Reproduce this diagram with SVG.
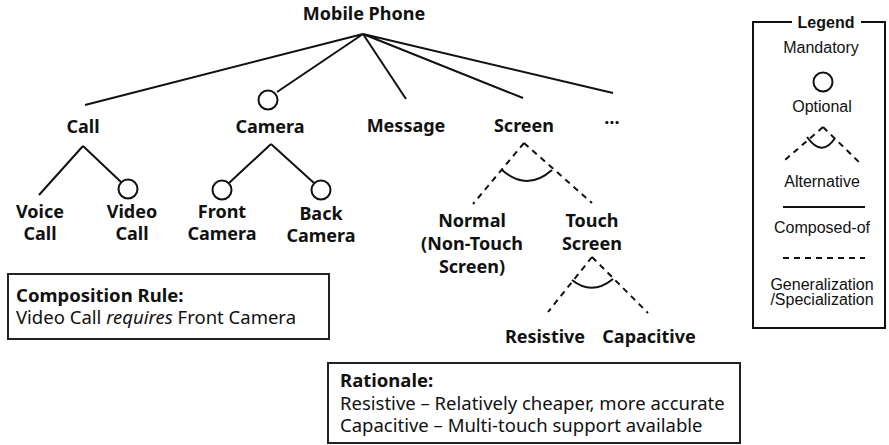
<svg xmlns="http://www.w3.org/2000/svg" width="889" height="445" viewBox="0 0 889 445">
<style>
.n{font-family:"Noto Sans","Open Sans",sans-serif;font-weight:bold;font-size:18px;fill:#111;text-anchor:middle}
.t{font-family:"Noto Sans","Open Sans",sans-serif;font-size:18.5px;fill:#111}
.lg{font-family:"Liberation Sans",Arial,sans-serif;font-size:16px;fill:#111;text-anchor:middle}
.s{stroke:#111;stroke-width:2;fill:none}
.d{stroke:#111;stroke-width:2;fill:none;stroke-dasharray:6,5}
.o{stroke:#111;stroke-width:2;fill:#fff}
.b{stroke:#222;stroke-width:2;fill:#fff}
</style>
<rect width="889" height="445" fill="#fff"/>
<g id="connectors">
<path class="s" d="M363,34 L85,105 M363,34 L277,92 M363,34 L406,99 M363,34 L523,98 M363,34 L613,93"/>
<circle class="o" cx="268" cy="100" r="9.5"/>
<path class="s" d="M83,146 L39,195 M83,146 L121,182"/>
<circle class="o" cx="128" cy="189" r="9.5"/>
<path class="s" d="M271,144 L229,183 M271,144 L314,183"/>
<circle class="o" cx="222" cy="190" r="9.5"/>
<circle class="o" cx="321" cy="190" r="9.5"/>
<path class="d" d="M524,143 L473,204 M524,143 L592,203"/>
<path class="s" d="M502,170 Q527,192 552,170"/>
<path class="d" d="M592,257 L548,312 M592,257 L648,313"/>
<path class="s" d="M572,280 Q592,296 613,279"/>
</g>
<g id="mobile-phone"><text class="n" x="364" y="20" font-size="18.5">Mobile Phone</text></g>
<g id="call"><text class="n" x="83" y="133">Call</text></g>
<g id="camera"><text class="n" x="270" y="133">Camera</text></g>
<g id="message"><text class="n" x="406" y="132">Message</text></g>
<g id="screen"><text class="n" x="524" y="132">Screen</text></g>
<g id="more"><text class="n" x="612" y="124">…</text></g>
<g id="voice-call"><text class="n" x="40" y="218">Voice</text><text class="n" x="40" y="240">Call</text></g>
<g id="video-call"><text class="n" x="132" y="218">Video</text><text class="n" x="132" y="240">Call</text></g>
<g id="front-camera"><text class="n" x="222" y="218">Front</text><text class="n" x="222" y="240">Camera</text></g>
<g id="back-camera"><text class="n" x="321" y="220">Back</text><text class="n" x="321" y="242">Camera</text></g>
<g id="normal"><text class="n" x="472" y="227">Normal</text><text class="n" x="472" y="250">(Non-Touch</text><text class="n" x="472" y="273">Screen)</text></g>
<g id="touch-screen"><text class="n" x="592" y="227">Touch</text><text class="n" x="592" y="250">Screen</text></g>
<g id="resistive"><text class="n" x="545" y="343">Resistive</text></g>
<g id="capacitive"><text class="n" x="649" y="343">Capacitive</text></g>
<g id="composition-rule">
<rect class="b" x="8" y="274" width="321" height="65"/>
<text class="t" x="16" y="302" font-weight="bold">Composition Rule:</text>
<text class="t" x="16" y="324">Video Call <tspan font-style="italic">requires</tspan> Front Camera</text>
</g>
<g id="rationale">
<rect class="b" x="328" y="363" width="412" height="80"/>
<text class="t" x="340" y="387" font-weight="bold">Rationale:</text>
<text class="t" x="340" y="410">Resistive – Relatively cheaper, more accurate</text>
<text class="t" x="340" y="432">Capacitive – Multi-touch support available</text>
</g>
<g id="legend">
<path class="s" d="M792,22 L753,22 L753,328 L885,328 L885,22 L861,22"/>
<text class="lg" x="826" y="28" font-weight="bold" font-size="18">Legend</text>
<text class="lg" x="821" y="53">Mandatory</text>
<circle class="o" cx="823" cy="82" r="9.5"/>
<text class="lg" x="822" y="112">Optional</text>
<path class="d" d="M823,127 L785,160 M823,127 L862,165"/>
<path class="s" d="M807,137 Q822,158 835,138"/>
<text class="lg" x="822" y="187">Alternative</text>
<path class="s" d="M783,207 L865,207"/>
<text class="lg" x="822" y="233">Composed-of</text>
<path class="d" d="M783,258 L865,258" stroke-dasharray="5,4"/>
<text class="lg" x="822" y="290">Generalization</text>
<text class="lg" x="822" y="305">/Specialization</text>
</g>
</svg>
